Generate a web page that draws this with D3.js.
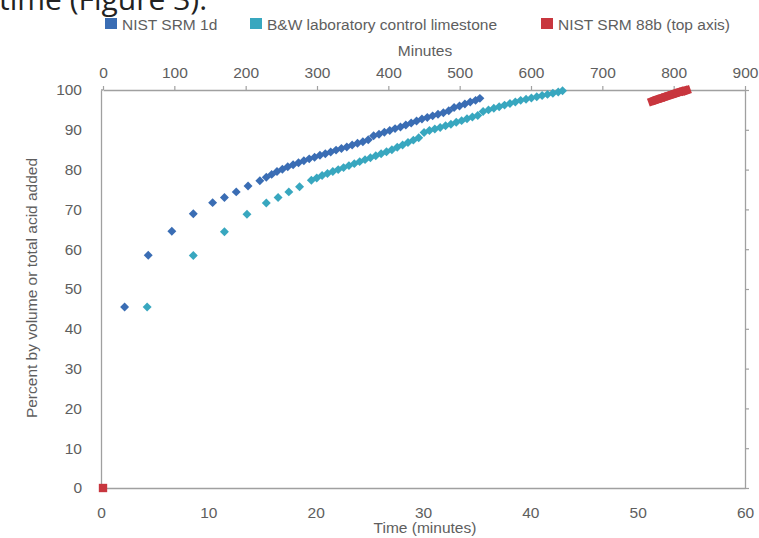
<!DOCTYPE html>
<html><head><meta charset="utf-8">
<script src="https://cdn.jsdelivr.net/npm/d3@7"></script>
<style>
html,body{margin:0;padding:0;background:#fff;overflow:hidden}
text{font-family:"Liberation Sans",Arial,sans-serif;fill:#5e5e5e}
</style></head>
<body><svg id="c" width="759" height="538"></svg>
<script>
// ---- data ----
const bottomTicks = [0,10,20,30,40,50,60];
const topTicks = [0,100,200,300,400,500,600,700,800,900];
const yTicks = [0,10,20,30,40,50,60,70,80,90,100];
const seriesNames = ["NIST SRM 1d","B&W laboratory control limestone","NIST SRM 88b (top axis)"];

const srm1dMinutes = [2.2,4.4,6.6,8.6,10.4,11.5,12.6,13.7,14.8,15.4,15.9,16.4,16.9,17.4,17.9,18.4,18.9,19.4,19.9,20.4,20.9,21.4,21.9,22.4,22.9,23.4,23.9,24.4,24.9,25.4,25.9,26.4,26.9,27.4,27.9,28.4,28.9,29.4,29.9,30.4,30.9,31.4,31.9,32.4,32.9,33.4,33.9,34.4,34.9,35.3];
const srm1dPercent = [45.5,58.5,64.5,68.9,71.7,73.0,74.4,75.9,77.2,78.1,78.8,79.5,80.1,80.7,81.2,81.7,82.2,82.7,83.1,83.6,84.0,84.4,84.9,85.3,85.7,86.2,86.6,87.0,87.5,88.5,88.9,89.4,89.8,90.3,90.7,91.2,91.7,92.2,92.7,93.1,93.5,93.9,94.3,94.8,95.6,96.0,96.5,97.0,97.4,97.9];

const bwMinutes = [4.3,8.6,11.5,13.6,15.4,16.5,17.5,18.5,19.6,20.1,20.6,21.1,21.6,22.1,22.6,23.1,23.6,24.1,24.6,25.1,25.6,26.1,26.6,27.1,27.6,28.1,28.6,29.1,29.6,30.1,30.6,31.1,31.6,32.1,32.6,33.1,33.6,34.1,34.6,35.1,35.6,36.1,36.6,37.1,37.6,38.1,38.6,39.1,39.6,40.1,40.6,41.1,41.6,42.1,42.6,43.0];
const bwPercent = [45.5,58.4,64.4,68.8,71.6,73.0,74.4,75.7,77.3,77.9,78.5,79.0,79.5,80.0,80.5,81.0,81.5,82.0,82.5,83.0,83.5,84.0,84.5,85.0,85.6,86.2,86.8,87.4,88.0,89.3,89.8,90.2,90.6,91.0,91.4,91.9,92.3,92.8,93.2,93.6,94.6,95.0,95.4,95.8,96.2,96.6,97.0,97.4,97.7,98.0,98.3,98.6,98.9,99.2,99.5,99.8];

const srm88bMinutes = [0,770,775,780,785,790,795,800,805,810,815,818];
const srm88bPercent = [0,97.2,97.5,97.8,98.1,98.4,98.7,99.0,99.3,99.6,99.8,99.9];

const colors = ["#3a6db4","#38a7bf","#c8363e"];

// ---- chart ----
const svg = d3.select("#c");
const x = d3.scaleLinear().domain([0,60]).range([101,745]);
const xTop = d3.scaleLinear().domain([0,900]).range([103,745]);
const y = d3.scaleLinear().domain([0,100]).range([488,90]);

svg.append("text").attr("x",-1).attr("y",10)
  .style("font-family","'Open Sans',sans-serif").style("font-size","30px").style("fill","#222")
  .text("time (Figure 3).");

const axisStyle = g => {
  g.selectAll("path.domain").attr("stroke","#a0a0a0").attr("stroke-width",1.3);
  g.selectAll(".tick line").attr("stroke","#a0a0a0").attr("stroke-width",1.2);
  g.selectAll("text").style("font-family","'Liberation Sans',Arial,sans-serif").style("font-size","15.5px").attr("fill","#5e5e5e");
};

svg.append("g").attr("transform","translate(0,488)")
  .call(d3.axisBottom(x).tickValues(bottomTicks).tickSize(0).tickSizeOuter(0).tickPadding(19)).call(axisStyle);
svg.append("g").attr("transform","translate(101,0)")
  .call(d3.axisLeft(y).tickValues(yTicks).tickSize(0).tickSizeOuter(0).tickPadding(19)).call(axisStyle);
svg.append("g").attr("transform","translate(0,90)")
  .call(d3.axisTop(xTop).tickValues(topTicks).tickSize(4).tickSizeOuter(0).tickPadding(8)).call(axisStyle);
svg.append("g").attr("transform","translate(745,0)")
  .call(d3.axisRight(y).tickValues(yTicks).tickSize(4).tickSizeOuter(0).tickFormat("")).call(axisStyle);
svg.append("line").attr("x1",x(0)).attr("x2",xTop.range()[0]).attr("y1",90).attr("y2",90).attr("stroke","#a0a0a0").attr("stroke-width",1.3);

// titles
svg.append("text").attr("x",425).attr("y",56).attr("text-anchor","middle").style("font-size","15.5px").text("Minutes");
svg.append("text").attr("x",425).attr("y",533).attr("text-anchor","middle").style("font-size","15.5px").text("Time (minutes)");
svg.append("text").attr("transform","translate(37,288) rotate(-90)").attr("text-anchor","middle").style("font-size","15.5px").text("Percent by volume or total acid added");

// markers
const diamond = d3.symbol().type(d3.symbolSquare).size(40)();
const square = d3.symbol().type(d3.symbolSquare).size(70)();

svg.append("g").selectAll("path").data(bwMinutes).join("path")
  .attr("d",diamond).attr("fill",colors[1])
  .attr("transform",(d,i)=>`translate(${x(d)},${y(bwPercent[i])}) rotate(45)`);
svg.append("g").selectAll("path").data(srm1dMinutes).join("path")
  .attr("d",diamond).attr("fill",colors[0])
  .attr("transform",(d,i)=>`translate(${x(d)},${y(srm1dPercent[i])}) rotate(45)`);
svg.append("g").selectAll("path").data(srm88bMinutes).join("path")
  .attr("d",square).attr("fill",colors[2])
  .attr("transform",(d,i)=>`translate(${xTop(d)},${y(srm88bPercent[i])}) rotate(${d===0?0:-20})`);

// legend
const legX = [105,250,541];
const lg = svg.append("g");
seriesNames.forEach((n,i)=>{
  lg.append("rect").attr("x",legX[i]).attr("y",18).attr("width",12).attr("height",11).attr("fill",colors[i]);
  lg.append("text").attr("x",legX[i]+17).attr("y",30).style("font-size","15.5px").text(n);
});
</script></body></html>
